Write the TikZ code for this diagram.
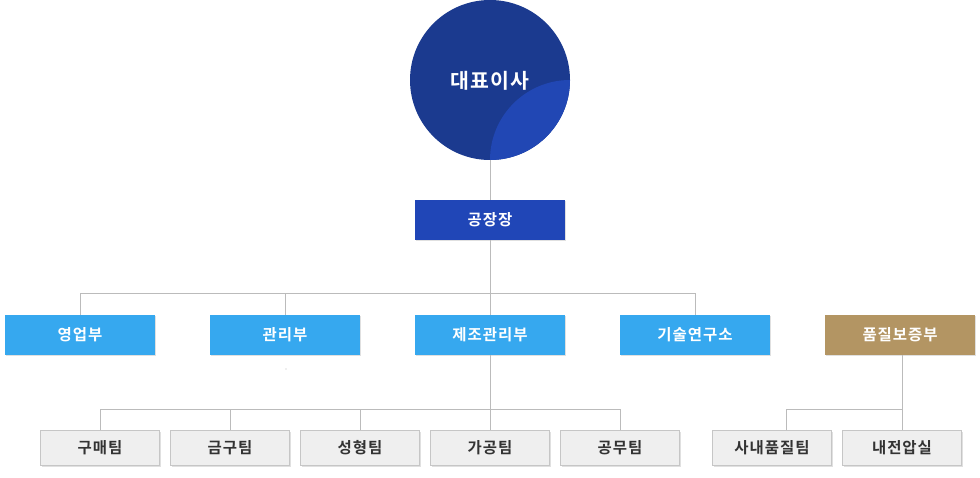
\documentclass[tikz,border=0pt]{standalone}
\usepackage{fontspec}
\setmainfont{Noto Sans CJK KR}
\newfontfamily\krspaced{Noto Sans CJK KR}[LetterSpace=6,UprightFont={* Bold},BoldFont={* Bold}]
\usetikzlibrary{shadows}
\definecolor{ceodark}{HTML}{1B3A8F}
\definecolor{ceolight}{HTML}{2147B4}
\definecolor{fmblue}{HTML}{2046B7}
\definecolor{deptblue}{HTML}{36A8EF}
\definecolor{qagold}{HTML}{B39563}
\definecolor{teamfill}{HTML}{EFEFEF}
\definecolor{teamline}{HTML}{C6C6C6}
\definecolor{connline}{HTML}{BBBBBB}
\definecolor{teamtext}{HTML}{333333}
\tikzset{
  boxshadow/.style={drop shadow={shadow xshift=1.2pt,shadow yshift=-1.2pt,opacity=0.12,fill=black}},
  deptbox/.style={boxshadow,minimum width=150pt,minimum height=40pt,inner sep=0pt,text=white,font=\krspaced\fontsize{15.5}{18}\selectfont},
  teambox/.style={boxshadow,draw=teamline,line width=1pt,fill=teamfill,minimum width=119pt,minimum height=35pt,inner sep=0pt,text=teamtext,font=\krspaced\fontsize{15.5}{18}\selectfont},
  conn/.style={draw=connline,line width=1pt}
}
\begin{document}
\begin{tikzpicture}[x=1pt,y=-1pt]
\useasboundingbox (0,0) rectangle (980,478);
% CEO circle
\fill[ceodark] (490,80) circle[radius=80pt];
\begin{scope}
  \clip (490,80) circle[radius=80pt];
  \fill[ceolight] (570,160) circle[radius=80pt];
\end{scope}
\node[circle,minimum size=160pt,inner sep=0pt] (ceo) at (490,80) {};
\node[text=white,font=\krspaced\fontsize{20.5}{24}\selectfont] (ceotext) at (490,81) {대표이사};
% factory manager
\node[deptbox,fill=fmblue] (fm) at (490,220) {공장장};
% departments
\node[deptbox,fill=deptblue] (sales) at (80,335) {영업부};
\node[deptbox,fill=deptblue] (admin) at (285,335) {관리부};
\node[deptbox,fill=deptblue] (mfg) at (490,335) {제조관리부};
\node[deptbox,fill=deptblue] (rnd) at (695,335) {기술연구소};
\node[deptbox,fill=qagold] (qa) at (900,335) {품질보증부};
% teams
\node[teambox] (t1) at (100,448) {구매팀};
\node[teambox] (t2) at (230,448) {금구팀};
\node[teambox] (t3) at (360,448) {성형팀};
\node[teambox] (t4) at (490,448) {가공팀};
\node[teambox] (t5) at (620,448) {공무팀};
\node[teambox] (q1) at (772,448) {사내품질팀};
\node[teambox] (q2) at (902,448) {내전압실};
% junctions
\coordinate (j1) at (490,294);
\coordinate (j2) at (490,409);
\coordinate (j3) at (902,409);
\coordinate (qabot) at (902,355);
\coordinate (q1top) at (786,430);
% connectors
\draw[conn] (ceo.south) -- (fm.north);
\draw[conn] (fm.south) -- (j1);
\draw[conn] (sales.north) |- (j1);
\draw[conn] (rnd.north) |- (j1);
\draw[conn] (admin.north) -- (admin.north |- j1);
\draw[conn] (j1) -- (mfg.north);
\draw[conn] (mfg.south) -- (j2);
\draw[conn] (t1.north) |- (j2);
\draw[conn] (t5.north) |- (j2);
\draw[conn] (t2.north) -- (t2.north |- j2);
\draw[conn] (t3.north) -- (t3.north |- j2);
\draw[conn] (j2) -- (t4.north);
\draw[conn] (qabot) -- (q2.north);
\draw[conn] (q1top) |- (j3);
% tiny dot
\fill[connline] (286,369) circle[radius=0.6pt];
\end{tikzpicture}
\end{document}
